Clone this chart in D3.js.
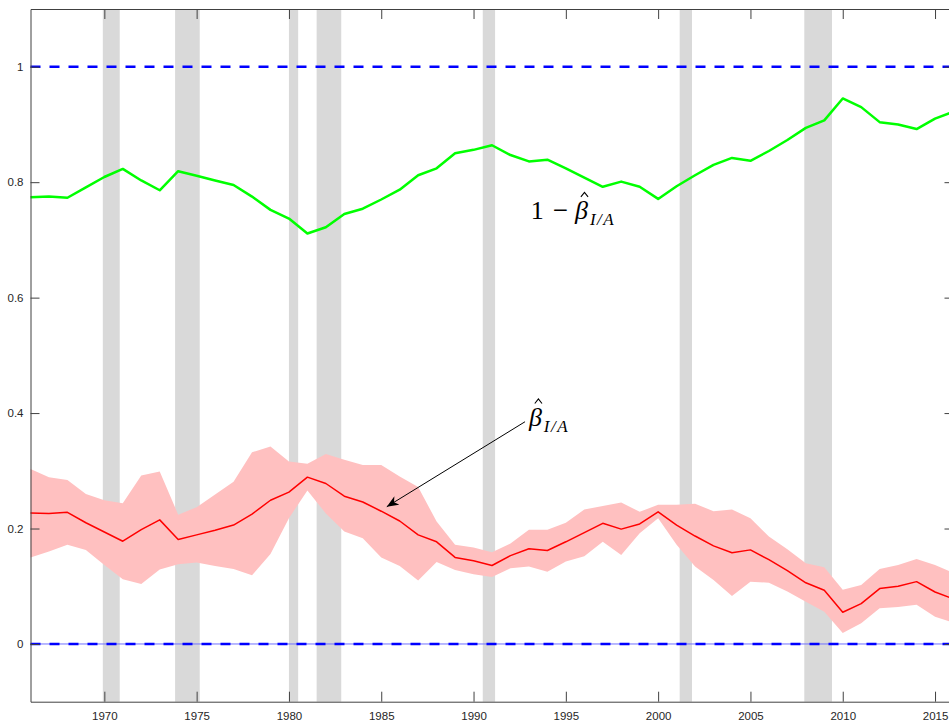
<!DOCTYPE html>
<html lang="en">
<head>
  <meta charset="UTF-8">
  <title>Beta I/A estimate</title>
  <script src="https://d3js.org/d3.v7.min.js"></script>
  <style>
    body {
      margin: 0;
      background: #fff;
    }
    svg {
      display: block;
    }
    .tick text {
      font-family: "Liberation Sans", Arial, sans-serif;
      font-size: 11.5px;
      fill: #262626;
    }
    .math {
      font-family: "Liberation Serif", "DejaVu Serif", serif;
      fill: #000;
    }
  </style>
</head>
<body>
  <svg width="949" height="725"></svg>

  <script>
    // Years (one observation per year)
    const years = [1966, 1967, 1968, 1969, 1970, 1971, 1972, 1973, 1974, 1975,
                   1976, 1977, 1978, 1979, 1980, 1981, 1982, 1983, 1984, 1985,
                   1986, 1987, 1988, 1989, 1990, 1991, 1992, 1993, 1994, 1995,
                   1996, 1997, 1998, 1999, 2000, 2001, 2002, 2003, 2004, 2005,
                   2006, 2007, 2008, 2009, 2010, 2011, 2012, 2013, 2014, 2015, 2016];

    // 1 - beta_hat (green)
    const oneMinusBeta = [0.774, 0.775, 0.773, 0.791, 0.809, 0.823, 0.803, 0.786, 0.819, 0.811,
                          0.803, 0.795, 0.775, 0.752, 0.737, 0.711, 0.722, 0.745, 0.754, 0.770,
                          0.787, 0.812, 0.824, 0.850, 0.856, 0.864, 0.847, 0.836, 0.839, 0.824,
                          0.808, 0.792, 0.801, 0.792, 0.771, 0.793, 0.812, 0.830, 0.842, 0.837,
                          0.854, 0.873, 0.894, 0.907, 0.945, 0.930, 0.904, 0.900, 0.892, 0.910, 0.922];

    // beta_hat (red) and its confidence band
    const betaHat = [0.227, 0.226, 0.228, 0.210, 0.194, 0.178, 0.198, 0.215, 0.181, 0.189,
                     0.197, 0.206, 0.225, 0.249, 0.263, 0.289, 0.278, 0.256, 0.246, 0.230,
                     0.213, 0.189, 0.177, 0.150, 0.144, 0.136, 0.153, 0.165, 0.162, 0.177,
                     0.193, 0.209, 0.199, 0.208, 0.229, 0.206, 0.187, 0.170, 0.158, 0.163,
                     0.146, 0.127, 0.106, 0.093, 0.055, 0.070, 0.096, 0.100, 0.108, 0.090, 0.078];

    const betaUpper = [0.303, 0.289, 0.284, 0.260, 0.249, 0.244, 0.292, 0.299, 0.224, 0.237,
                       0.259, 0.281, 0.332, 0.342, 0.316, 0.312, 0.329, 0.319, 0.310, 0.310,
                       0.290, 0.272, 0.212, 0.172, 0.167, 0.159, 0.174, 0.198, 0.198, 0.210,
                       0.233, 0.239, 0.245, 0.229, 0.241, 0.241, 0.243, 0.230, 0.233, 0.218,
                       0.186, 0.164, 0.140, 0.133, 0.094, 0.102, 0.130, 0.137, 0.147, 0.137, 0.123];

    const betaLower = [0.150, 0.160, 0.172, 0.163, 0.137, 0.112, 0.104, 0.129, 0.138, 0.141,
                       0.135, 0.130, 0.119, 0.156, 0.218, 0.266, 0.226, 0.195, 0.183, 0.150,
                       0.135, 0.110, 0.142, 0.128, 0.121, 0.116, 0.131, 0.134, 0.125, 0.143,
                       0.152, 0.177, 0.154, 0.192, 0.218, 0.172, 0.134, 0.111, 0.083, 0.108,
                       0.106, 0.091, 0.073, 0.056, 0.019, 0.036, 0.062, 0.064, 0.068, 0.047, 0.037];

    // NBER recessions (fractional years)
    const recStart = [1969.917, 1973.833, 1980.0, 1981.5, 1990.5, 2001.167, 2007.917];
    const recEnd   = [1970.833, 1975.167, 1980.5, 1982.833, 1991.167, 2001.833, 2009.417];

    // Reference lines and ticks
    const refLines = [0, 1];
    const xTicks = [1970, 1975, 1980, 1985, 1990, 1995, 2000, 2005, 2010, 2015];
    const yTicks = [0, 0.2, 0.4, 0.6, 0.8, 1];

    const svg = d3.select("svg");

    const x = d3.scaleLinear().domain([1966, 2016]).range([30.5, 953.5]);
    const y = d3.scaleLinear().domain([-0.1, 1.1]).range([701.7, 9]);

    const rows = years.map((yr, i) => ({
      year: yr, g: oneMinusBeta[i], b: betaHat[i], lo: betaLower[i], hi: betaUpper[i]
    }));

    const plot = svg.append("g");

    // recession shading
    plot.selectAll("rect.rec")
      .data(recStart.map((s, i) => [s, recEnd[i]]))
      .enter().append("rect")
      .attr("class", "rec")
      .attr("x", d => x(d[0]))
      .attr("width", d => x(d[1]) - x(d[0]))
      .attr("y", y(1.1))
      .attr("height", y(-0.1) - y(1.1))
      .attr("fill", "#d9d9d9");

    // confidence band
    plot.append("path")
      .datum(rows)
      .attr("fill", "#ffc0c0")
      .attr("d", d3.area().x(d => x(d.year)).y0(d => y(d.lo)).y1(d => y(d.hi)));

    // thin solid line under the zero line
    plot.append("line")
      .attr("x1", x(1966)).attr("x2", x(2016))
      .attr("y1", y(0)).attr("y2", y(0))
      .attr("stroke", "#7070ff")
      .attr("stroke-width", 1);

    // dashed reference lines
    plot.selectAll("line.ref")
      .data(refLines)
      .enter().append("line")
      .attr("class", "ref")
      .attr("x1", x(1966)).attr("x2", x(2016))
      .attr("y1", d => y(d)).attr("y2", d => y(d))
      .attr("stroke", "#0000ff")
      .attr("stroke-width", 2.5)
      .attr("stroke-dasharray", "10 9");

    // 1 - beta
    plot.append("path")
      .datum(rows)
      .attr("fill", "none")
      .attr("stroke", "#00ff00")
      .attr("stroke-width", 2.5)
      .attr("stroke-linejoin", "round")
      .attr("d", d3.line().x(d => x(d.year)).y(d => y(d.g)));

    // beta
    plot.append("path")
      .datum(rows)
      .attr("fill", "none")
      .attr("stroke", "#ff0000")
      .attr("stroke-width", 1.5)
      .attr("stroke-linejoin", "round")
      .attr("d", d3.line().x(d => x(d.year)).y(d => y(d.b)));

    // axes (ticks point inward, box on all sides)
    const axisColor = "#404040";
    const styleAxis = g => {
      g.select(".domain").attr("stroke", axisColor);
      g.selectAll(".tick line").attr("stroke", axisColor);
    };

    svg.append("g")
      .attr("transform", `translate(0,${y(-0.1)})`)
      .call(d3.axisBottom(x).tickValues(xTicks).tickFormat(d3.format("d"))
        .tickSizeInner(-10).tickSizeOuter(0).tickPadding(10))
      .call(styleAxis);

    svg.append("g")
      .attr("transform", `translate(0,${y(1.1)})`)
      .call(d3.axisTop(x).tickValues(xTicks).tickFormat("")
        .tickSizeInner(-10).tickSizeOuter(0))
      .call(styleAxis);

    svg.append("g")
      .attr("transform", `translate(${x(1966)},0)`)
      .call(d3.axisLeft(y).tickValues(yTicks).tickFormat(d => d3.format("~g")(d))
        .tickSizeInner(-9).tickSizeOuter(0).tickPadding(7))
      .call(styleAxis);

    svg.append("g")
      .attr("transform", `translate(${x(2016)},0)`)
      .call(d3.axisRight(y).tickValues(yTicks).tickFormat("")
        .tickSizeInner(-9).tickSizeOuter(0))
      .call(styleAxis);

    // arrow annotation
    const defs = svg.append("defs");
    defs.append("marker")
      .attr("id", "head")
      .attr("viewBox", "0 0 12 10")
      .attr("refX", 12).attr("refY", 5)
      .attr("markerWidth", 12).attr("markerHeight", 10)
      .attr("markerUnits", "userSpaceOnUse")
      .attr("orient", "auto")
      .append("path")
      .attr("d", "M0,0 L12,5 L0,10 L3.5,5 Z")
      .attr("fill", "#000");

    svg.append("line")
      .attr("x1", x(1992.79)).attr("y1", y(0.385))
      .attr("x2", x(1985.30)).attr("y2", y(0.2378))
      .attr("stroke", "#000")
      .attr("stroke-width", 1)
      .attr("marker-end", "url(#head)");

    // math labels: optional "1 −" prefix, italic beta with a drawn hat, italic subscript
    function mathLabel(px, py, withPrefix) {
      const t = svg.append("text")
        .attr("class", "math")
        .attr("x", px).attr("y", py)
        .attr("font-size", 26);
      if (withPrefix) {
        t.append("tspan").text("1");
        t.append("tspan").attr("dx", 9).attr("font-size", 27).text("\u2212");
      }
      t.append("tspan").attr("font-style", "italic")
        .attr("dx", withPrefix ? 7 : 0).text("\u03B2");
      t.append("tspan").attr("font-style", "italic").attr("font-size", 17)
        .attr("dx", 2).attr("dy", 6)
        .attr("letter-spacing", 1.5)
        .text("I/A");
      const node = t.node();
      const bi = withPrefix ? 2 : 0;
      const b0 = node.getStartPositionOfChar(bi).x;
      const b1 = node.getEndPositionOfChar(bi).x;
      const cx = (b0 + b1) / 2 + 3;
      const top = py - 27;
      svg.append("path")
        .attr("d", `M${cx - 3.6},${top + 4.5} L${cx},${top} L${cx + 3.6},${top + 4.5}`)
        .attr("fill", "none")
        .attr("stroke", "#000")
        .attr("stroke-width", 1.1);
    }

    mathLabel(x(1993.0), y(0.3776), false);
    mathLabel(x(1993.1), y(0.7357), true);
  </script>
</body>
</html>
